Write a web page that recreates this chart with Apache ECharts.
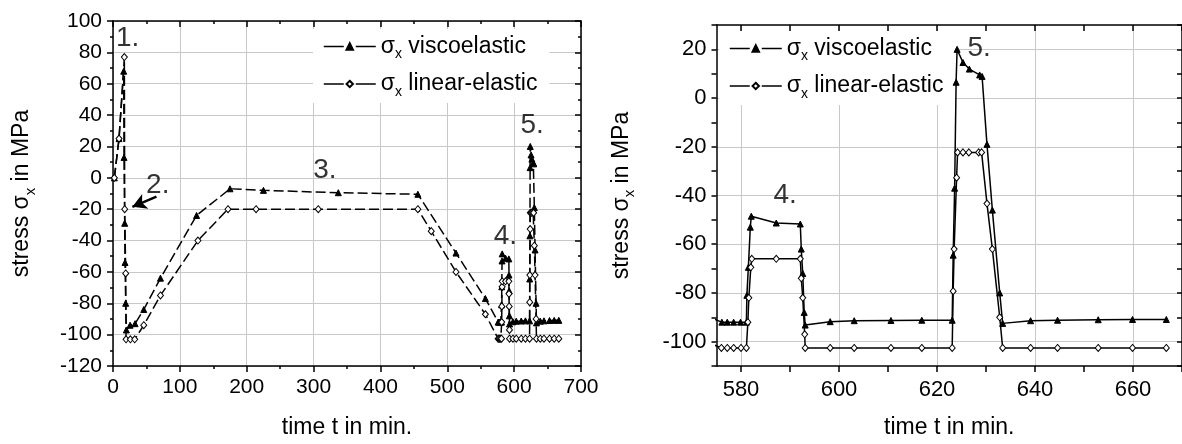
<!DOCTYPE html>
<html><head><meta charset="utf-8">
<script src="https://cdn.jsdelivr.net/npm/echarts@6/dist/echarts.min.js"></script>
<style>html,body{margin:0;padding:0;background:#fff}#c{width:1182px;height:444px}</style>
</head><body><div id="c"></div><script>
// ---- data (time t in min, stress in MPa) ----
const viscoelastic = [
  [2,0],[9,25],[16,68],[16.5,13],[17.5,-29],[18,-54],[19,-80],[20,-97],[25.5,-94],[33,-93],[46,-84],[71,-64],
  [125,-24],[175,-7],[225,-8],[337,-9.5],[456,-10.5],[513,-48],[557,-77],
  [576.1,-92],[577.2,-92],[578.5,-92],[579.9,-92],[581.1,-92],[581.2,-81],[581.5,-69.5],[581.9,-53],[582.1,-48.5],
  [587.2,-51.3],[592.1,-51.7],[592.3,-62],[592.6,-72],[592.9,-88],[593.1,-93.2],[598.2,-91.8],[603.1,-91.4],
  [610.6,-91.3],[616.9,-91.2],[623.1,-91.2],[623.3,-64.5],[623.6,-37],[623.9,6.5],[624.1,20],[625.3,14.6],
  [626.6,11.9],[628.7,9.5],[629.2,8.9],[630.2,-19],[631.3,-46],[632.8,-80],[633.4,-92.5],[639.1,-91.4],
  [644.6,-91.2],[652.9,-91],[659.9,-90.9],[666.8,-90.9]
];
const linearElastic = [
  [2,0],[9,25],[17,77],[17.5,-20],[19,-61],[19.5,-103],[26,-103],[32.5,-103],[46,-94],[71,-75],[127,-40],
  [172,-20],[214,-20],[307,-20],[456,-20],[476,-34],[513,-60],[557,-87],
  [576,-102.6],[577.2,-102.6],[578.5,-102.6],[580,-102.6],[581.1,-102.6],[581.4,-92],[581.6,-82],[582,-69.5],
  [582.2,-66],[587.2,-66],[592.1,-66],[592.3,-74],[592.6,-82],[593,-97],[593.1,-102.6],[598.2,-102.6],
  [603.1,-102.6],[610.6,-102.6],[616.9,-102.6],[623.1,-102.6],[623.3,-79.3],[623.5,-62],[624,-32.7],
  [624.2,-22.3],[625.3,-22.3],[626.5,-22.3],[628.5,-22.3],[629.1,-22.3],[630.2,-43.3],[631.3,-62],
  [632.8,-90],[633.4,-102.6],[639.1,-102.6],[644.6,-102.6],[652.9,-102.6],[659.9,-102.6],[666.8,-102.6]
];
const seriesNames = ['σx viscoelastic', 'σx linear-elastic'];
const xTitle = 'time t in min.';
const yTitle = 'stress σx in MPa';
// axis ranges / ticks
const leftX = {min: 0, max: 700, step: 100};
const leftY = {min: -120, max: 100, step: 20};
const rightX = {min: 575, max: 670};
const rightXTicks = [580, 590, 600, 610, 620, 630, 640, 650, 660, 670];
const rightXLabels = [580, 600, 620, 640, 660];
const rightY = {min: -110, max: 30, step: 10, labelStep: 20};
// annotations [t, stress, text]
const annotationsLeft = [[22, 89, '1.'], [67, -5, '2.'], [317, 5, '3.'], [587, -37, '4.'], [627, 33.5, '5.']];
const annotationsRight = [[589, -40, '4.'], [628.6, 20.5, '5.']];
const arrowLeft = [[65, -12], [29, -18.5]];

const FONT = 'Liberation Sans, Arial, sans-serif';
const GRID_C = '#c8c8c8';
function makeRich(size, sub, lh) {
  return {
    g: {fontSize: size, fontFamily: FONT, color: '#000', lineHeight: lh},
    sub: {fontSize: sub, fontFamily: FONT, color: '#000', verticalAlign: 'bottom', lineHeight: sub + 1, padding: [0, 0, -2, 0]},
    t: {fontSize: size, fontFamily: FONT, color: '#000', lineHeight: lh}
  };
}
function sig(s) { return s.replace(/^(.*?)σx(.*)$/, (m, a, b) => (a ? '{t|' + a + '}' : '') + '{g|σ}{sub|x}{t|' + b + '}'); }

const axisLineStyle = {color: '#000', width: 1.5};
function mirror(base, gridIndex, pos) {
  return Object.assign({}, base, {
    gridIndex, position: pos,
    axisLine: {show: true, onZero: false, lineStyle: axisLineStyle},
    axisTick: Object.assign({}, base.axisTick, {inside: true}),
    minorTick: base.minorTick ? Object.assign({}, base.minorTick) : undefined,
    axisLabel: {show: false}, splitLine: {show: false}, name: ''
  });
}

const xL = {
  type: 'value', gridIndex: 0, position: 'bottom', min: leftX.min, max: leftX.max, interval: leftX.step,
  axisLine: {show: true, onZero: false, lineStyle: axisLineStyle},
  axisTick: {show: true, length: 6, lineStyle: {color: '#000', width: 1.5}},
  minorTick: {show: true, splitNumber: 2, length: 3, lineStyle: {color: '#000', width: 1.5}},
  axisLabel: {fontSize: 21, fontFamily: FONT, color: '#000', margin: 11},
  splitLine: {show: true, lineStyle: {color: GRID_C, width: 1}},
  name: xTitle, nameLocation: 'middle', nameGap: 50,
  nameTextStyle: {fontSize: 23, fontFamily: FONT, color: '#000'}
};
const yL = {
  type: 'value', gridIndex: 0, position: 'left', min: leftY.min, max: leftY.max, interval: leftY.step,
  axisLine: {show: true, onZero: false, lineStyle: axisLineStyle},
  axisTick: {show: true, length: 6, lineStyle: {color: '#000', width: 1.5}},
  minorTick: {show: true, splitNumber: 2, length: 3, lineStyle: {color: '#000', width: 1.5}},
  axisLabel: {fontSize: 21, fontFamily: FONT, color: '#000', margin: 11},
  splitLine: {show: true, lineStyle: {color: GRID_C, width: 1}},
  name: sig(yTitle), nameLocation: 'middle', nameGap: 77, nameRotate: 90,
  nameTextStyle: {fontSize: 23, fontFamily: FONT, color: '#000', rich: makeRich(23, 15, 28)}
};
const xR = {
  type: 'value', gridIndex: 1, position: 'bottom', min: rightX.min, max: rightX.max,
  axisLine: {show: true, onZero: false, lineStyle: axisLineStyle},
  axisTick: {show: true, length: 6, customValues: rightXTicks, lineStyle: {color: '#000', width: 1.5}},
  axisLabel: {fontSize: 22, fontFamily: FONT, color: '#000', margin: 13, customValues: rightXLabels},
  splitLine: {show: true, lineStyle: {color: [GRID_C, 'rgba(0,0,0,0)'], width: 1}},
  name: xTitle, nameLocation: 'middle', nameGap: 50,
  nameTextStyle: {fontSize: 23, fontFamily: FONT, color: '#000'}
};
const yR = {
  type: 'value', gridIndex: 1, position: 'left', min: rightY.min, max: rightY.max, interval: rightY.step,
  axisLine: {show: true, onZero: false, lineStyle: axisLineStyle},
  axisTick: {show: true, length: 5, lineStyle: {color: '#000', width: 1.5}},
  axisLabel: {fontSize: 22, fontFamily: FONT, color: '#000', margin: 10,
    formatter: v => (Math.round(v) % rightY.labelStep === 0 ? String(Math.round(v)) : '')},
  splitLine: {show: true, showMinLine: true, lineStyle: {color: ['rgba(0,0,0,0)', GRID_C], width: 1}},
  name: sig(yTitle), nameLocation: 'middle', nameGap: 81, nameRotate: 90,
  nameTextStyle: {fontSize: 23, fontFamily: FONT, color: '#000', rich: makeRich(23, 15, 28)}
};

function lineSeries(name, data, xi, yi, dashed, isTri) {
  return {
    type: 'line', name, data, xAxisIndex: xi, yAxisIndex: yi, showAllSymbol: true,
    symbol: isTri ? 'triangle' : 'diamond', symbolSize: isTri ? 6 : [6, 7],
    lineStyle: {color: '#000', width: 1.5, type: dashed ? [10, 4] : 'solid'},
    itemStyle: {color: isTri ? '#000' : '#fff', borderColor: '#000', borderWidth: 1},
    emphasis: {disabled: true}, animation: false, z: isTri ? 2 : 3
  };
}
function annSeries(items, xi, yi, arrow) {
  const s = {
    type: 'scatter', xAxisIndex: xi, yAxisIndex: yi, symbolSize: 0, silent: true, animation: false,
    data: items.map(a => ({value: [a[0], a[1]], label: {formatter: a[2]}})),
    label: {show: true, position: 'inside', fontSize: 28, fontFamily: FONT, color: '#000'}
  };
  if (arrow) {
    s.markLine = {
      silent: true, animation: false, symbol: ['none', 'arrow'], symbolSize: [12, 14],
      label: {show: false}, lineStyle: {color: '#000', width: 2.5, type: 'solid'},
      data: [[{coord: arrow[0]}, {coord: arrow[1]}]]
    };
  }
  return s;
}
function legendCfg(left, top) {
  return {
    orient: 'vertical', left, top, z: 1, backgroundColor: '#fff', padding: [6, 12, 4, 10],
    itemWidth: 52, itemHeight: 8, itemGap: 11, selectedMode: false,
    data: seriesNames.map(n => ({name: n, lineStyle: {type: [20, 12], width: 1.5, color: '#000'}})),
    formatter: n => sig(n),
    textStyle: {fontSize: 23, fontFamily: FONT, color: '#000', rich: makeRich(23, 14, 26)}
  };
}

const chart = echarts.init(document.getElementById('c'), null, {renderer: 'canvas'});
chart.setOption({
  animation: false,
  backgroundColor: '#fff',
  grid: [
    {left: 113, top: 21, width: 468, height: 345},
    {left: 716.5, top: 25, width: 465.5, height: 346}
  ],
  xAxis: [xL, mirror(xL, 0, 'top'), xR, mirror(xR, 1, 'top')],
  yAxis: [yL, mirror(yL, 0, 'right'), yR, mirror(yR, 1, 'right')],
  legend: [legendCfg(313, 29), legendCfg(719, 31)],
  series: [
    lineSeries(seriesNames[0], viscoelastic, 0, 0, true, true),
    lineSeries(seriesNames[1], linearElastic, 0, 0, true, false),
    lineSeries(seriesNames[0], viscoelastic, 2, 2, false, true),
    lineSeries(seriesNames[1], linearElastic, 2, 2, false, false),
    annSeries(annotationsLeft, 0, 0, arrowLeft),
    annSeries(annotationsRight, 2, 2, null)
  ]
});
</script></body></html>
